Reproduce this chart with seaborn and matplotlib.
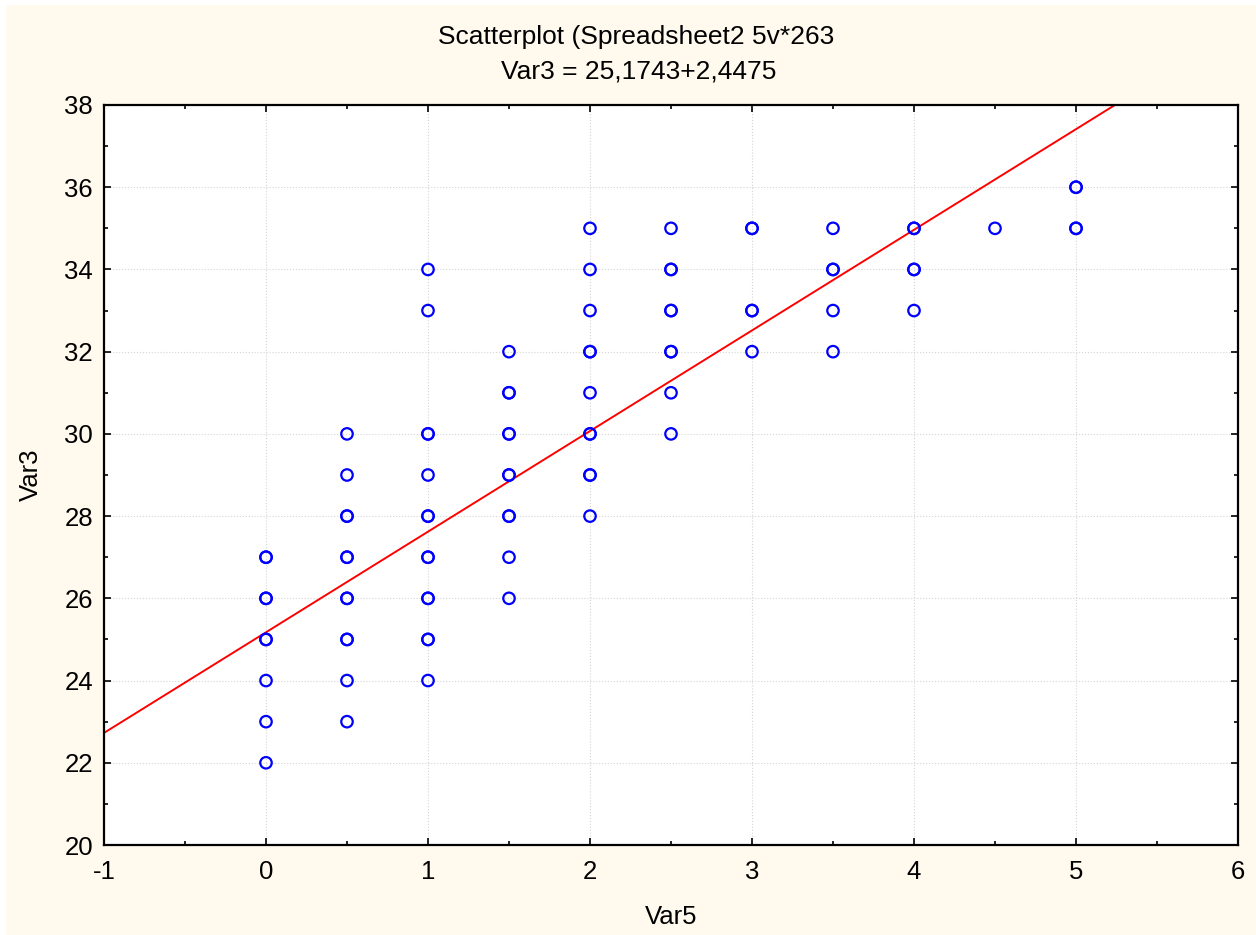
import numpy as np
import pandas as pd
import seaborn as sns
import matplotlib.pyplot as plt
from matplotlib.ticker import MultipleLocator
from matplotlib.patches import Rectangle

sns.set_style('white')
plt.rcParams['font.family'] = ['Liberation Sans', 'DejaVu Sans']
plt.rcParams['axes.unicode_minus'] = False
plt.rcParams['text.color'] = 'black'
plt.rcParams['axes.labelcolor'] = 'black'

# values (repeated values = overlapping cases)
var5 = [0, 0, 0, 0, 0, 0, 0, 0, 0,
        0.5, 0.5, 0.5, 0.5, 0.5, 0.5, 0.5, 0.5, 0.5, 0.5, 0.5, 0.5,
        1, 1, 1, 1, 1, 1, 1, 1, 1, 1, 1, 1, 1, 1,
        1.5, 1.5, 1.5, 1.5, 1.5, 1.5, 1.5, 1.5, 1.5, 1.5, 1.5,
        2, 2, 2, 2, 2, 2, 2, 2, 2, 2, 2,
        2.5, 2.5, 2.5, 2.5, 2.5, 2.5, 2.5, 2.5, 2.5,
        3, 3, 3, 3, 3,
        3.5, 3.5, 3.5, 3.5, 3.5,
        4, 4, 4, 4, 4,
        4.5,
        5, 5, 5, 5]
var3 = [22, 23, 24, 25, 26, 27, 25, 26, 27,
        23, 24, 25, 26, 27, 28, 29, 30, 25, 26, 27, 28,
        24, 25, 26, 27, 28, 29, 30, 33, 34, 25, 26, 27, 28, 30,
        26, 27, 28, 29, 30, 31, 32, 28, 29, 30, 31,
        28, 29, 30, 31, 32, 33, 34, 35, 29, 30, 32,
        30, 31, 32, 33, 34, 35, 32, 33, 34,
        32, 33, 35, 33, 35,
        32, 33, 34, 35, 34,
        33, 34, 35, 34, 35,
        35,
        35, 36, 35, 36]

intercept = 25.1743
slope = 2.4475
line_x = [-1, 6]

df = pd.DataFrame({'Var5': var5, 'Var3': var3})
fit = pd.DataFrame({'x': line_x, 'y': [intercept + slope * v for v in line_x]})

fs = 18.5

fig = plt.figure(figsize=(12.56, 9.35), dpi=100)
fig.patch.set_facecolor('#FFF9EE')
# thin white strips along the top and left edge
fig.patches.append(Rectangle((0, 1 - 5 / 935), 1, 5 / 935, transform=fig.transFigure,
                             facecolor='white', edgecolor='none', zorder=-1))
fig.patches.append(Rectangle((0, 0), 6 / 1256, 1, transform=fig.transFigure,
                             facecolor='white', edgecolor='none', zorder=-1))

ax = fig.add_axes([104 / 1256, 1 - 845 / 935, (1238 - 104) / 1256, (845 - 105) / 935])
ax.set_facecolor('white')

sns.lineplot(data=fit, x='x', y='y', color='#FF0000', linewidth=1.4, ax=ax, zorder=2)
sns.scatterplot(data=df, x='Var5', y='Var3', marker='o', s=68, facecolors='none',
                edgecolor='#0000FF', linewidth=1.6, ax=ax, zorder=3)

ax.set_xlim(-1, 6)
ax.set_ylim(20, 38)
ax.xaxis.set_major_locator(MultipleLocator(1))
ax.xaxis.set_minor_locator(MultipleLocator(0.5))
ax.yaxis.set_major_locator(MultipleLocator(2))
ax.yaxis.set_minor_locator(MultipleLocator(1))

ax.grid(True, which='major', linestyle=':', color='#D5D5D5', linewidth=0.8)
ax.tick_params(which='both', direction='in', top=True, right=True, bottom=True, left=True,
               width=1.2, colors='black', labelsize=fs)
ax.tick_params(axis='x', which='major', pad=11)
ax.tick_params(axis='y', which='major', pad=8)
ax.tick_params(which='major', length=5)
ax.tick_params(which='minor', length=3)
for sp in ax.spines.values():
    sp.set_visible(True)
    sp.set_color('black')
    sp.set_linewidth(1.6)

ax.set_xlabel('Var5', fontsize=fs)
ax.set_ylabel('Var3', fontsize=fs)
ax.xaxis.set_label_coords(0.5, (845 - 905) / 740)
ax.yaxis.set_label_coords((43 - 104) / 1134, 0.5)

fig.text(636 / 1256, 1 - 37 / 935, 'Scatterplot (Spreadsheet2 5v*263', ha='center', va='center', fontsize=fs + 0.5)
fig.text(639 / 1256, 1 - 72 / 935, 'Var3 = 25,1743+2,4475', ha='center', va='center', fontsize=fs + 0.5)

fig.savefig('out.png', dpi=100, facecolor=fig.get_facecolor())
